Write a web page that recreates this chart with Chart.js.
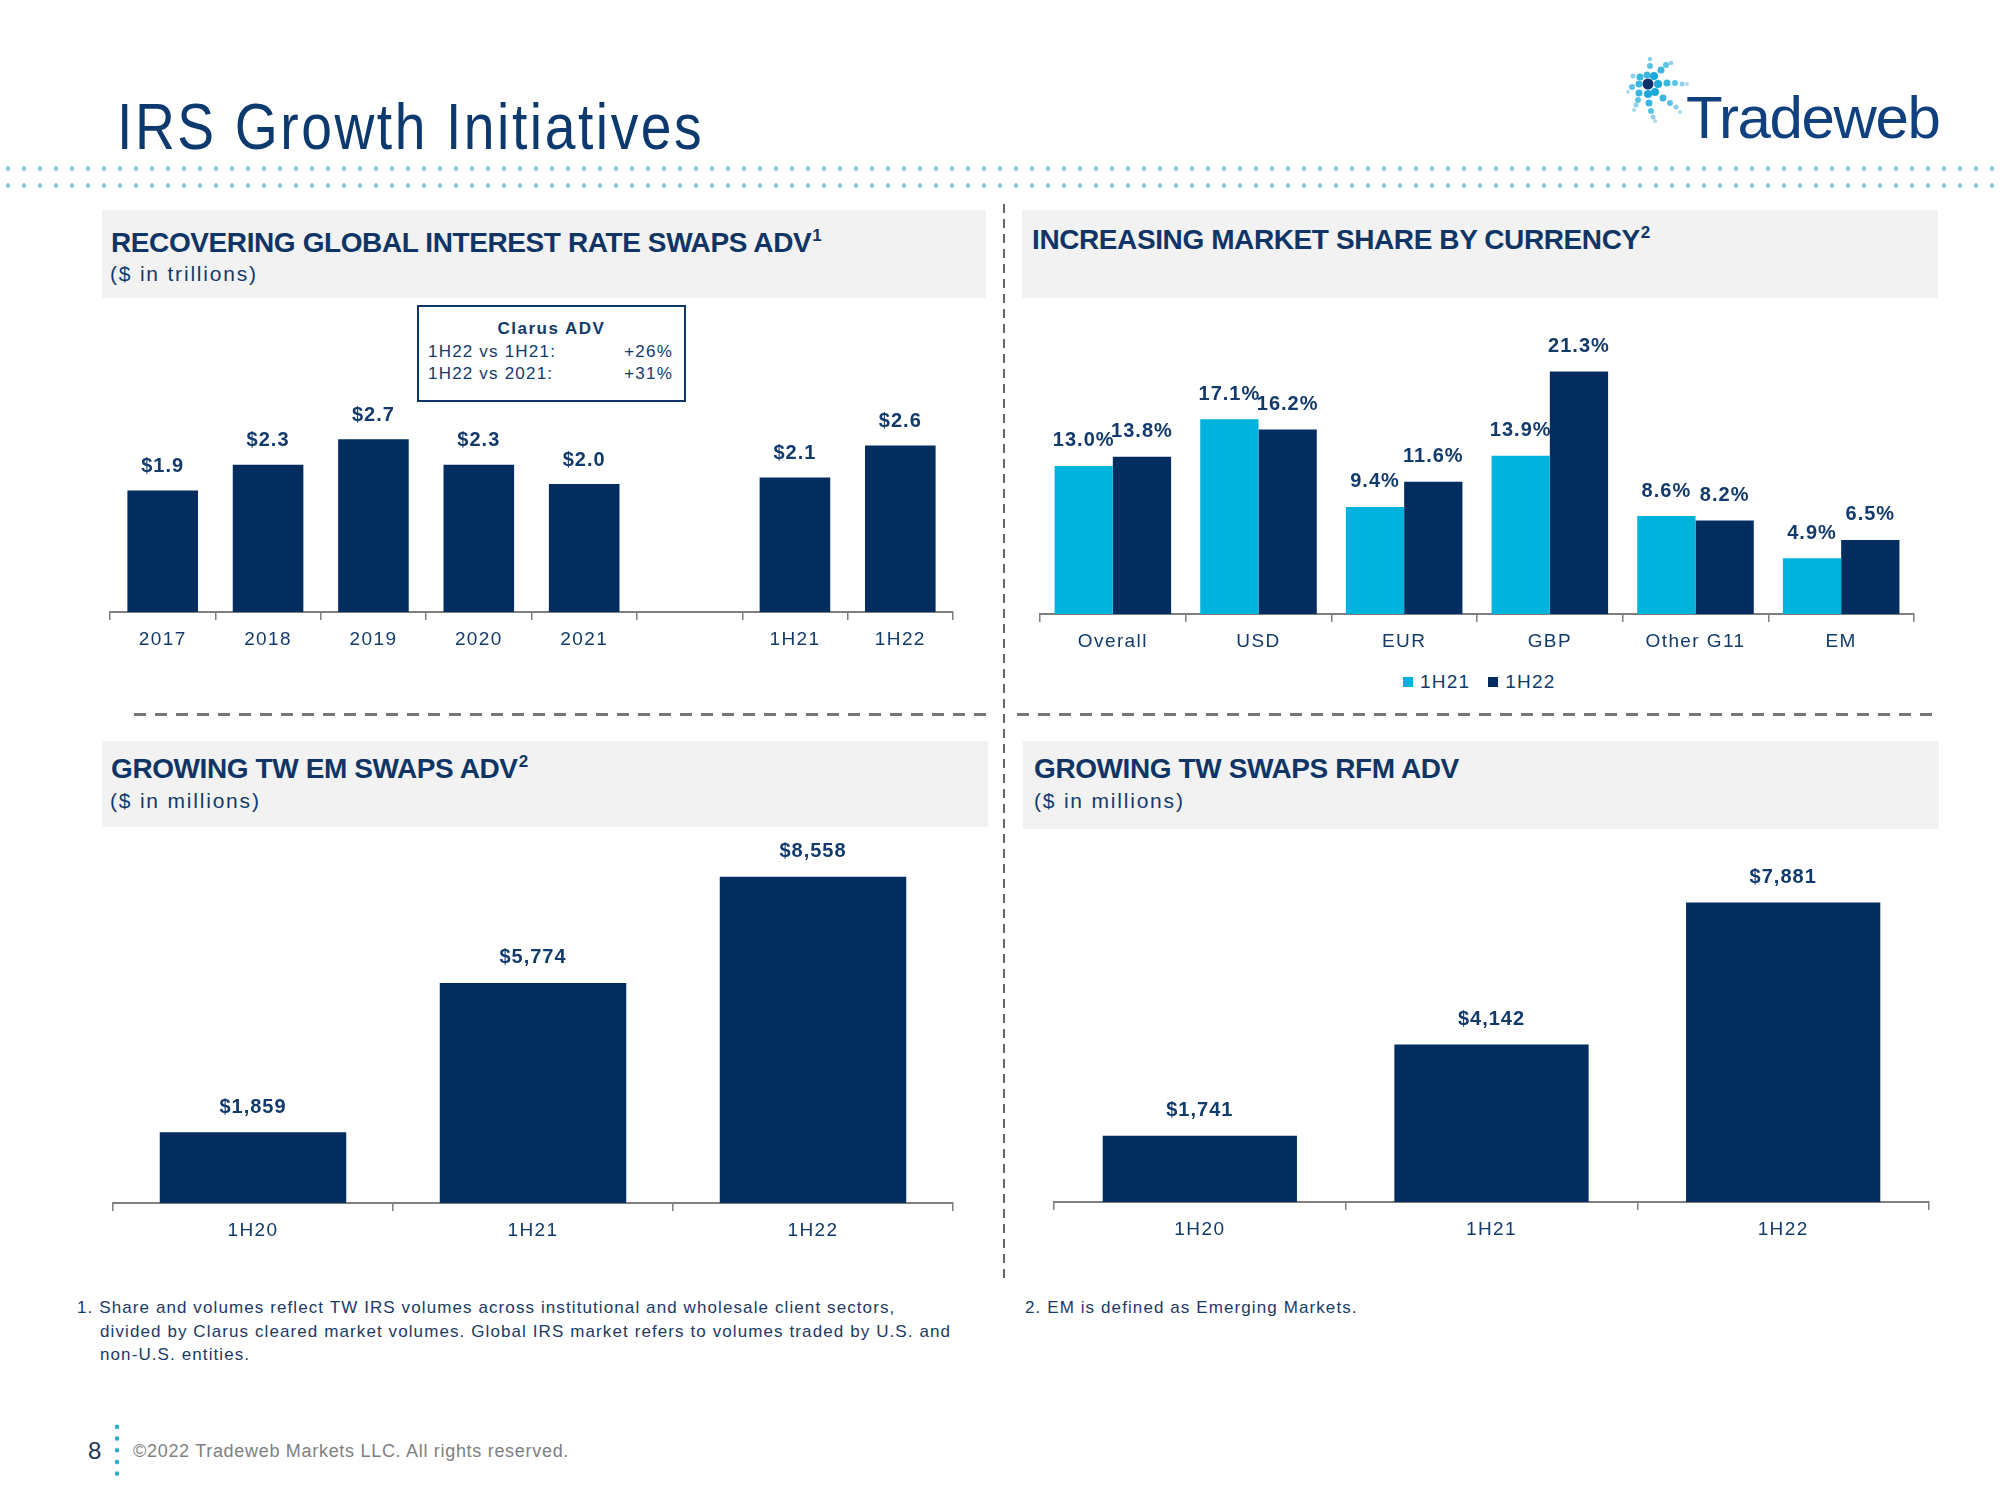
<!DOCTYPE html>
<html>
<head>
<meta charset="utf-8">
<script src="https://cdn.jsdelivr.net/npm/chart.js@4.4.1/dist/chart.umd.min.js"></script>
<style>
body { margin: 0; background: #fff; }
#page { position: relative; width: 2000px; height: 1500px; overflow: hidden; font-family: "Liberation Sans", Arial, sans-serif; color: #123a6b; }
.abs { position: absolute; white-space: nowrap; line-height: 1; }
.hdr { position: absolute; background: #f2f2f2; }
.htitle { position: absolute; font-weight: bold; font-size: 28px; letter-spacing: -0.4px; color: #0f3566; white-space: nowrap; line-height: 1; }
.htitle sup { font-size: 17px; vertical-align: top; position: relative; top: -2px; letter-spacing: 0; margin-left: 1px; }
.hsub { position: absolute; font-size: 21px; letter-spacing: 1.8px; color: #123a6b; white-space: nowrap; line-height: 1; }
.note { position: absolute; white-space: nowrap; font-size: 17px; letter-spacing: 1.1px; line-height: 23.6px; color: #1b3a66; }
canvas { position: absolute; }
</style>
</head>
<body>
<div id="page">
  <!-- page title + logo -->
  <div class="abs" style="left:117px;top:94px;font-size:65px;letter-spacing:3px;color:#0d3a6e;transform:scaleX(0.85);transform-origin:0 0;">IRS Growth Initiatives</div>
  <svg class="abs" style="left:1600px;top:40px;" width="360" height="120" id="logo"></svg>
  <div class="abs" style="left:1686px;top:88px;font-size:60px;letter-spacing:-1.4px;color:#10407e;">Tradeweb</div>
  <div class="abs" style="left:0;top:160px;width:2000px;height:34px;background-image:radial-gradient(circle, #8cc8d8 0 2px, rgba(255,255,255,0) 2.6px);background-size:16px 17px;"></div>

  <!-- separators -->
  <div class="abs" style="left:1003px;top:204px;width:2px;height:1076px;background:repeating-linear-gradient(to bottom,#666 0 9px,rgba(0,0,0,0) 9px 15px);"></div>
  <div class="abs" style="left:134px;top:713px;width:854px;height:3px;background:repeating-linear-gradient(to right,#777 0 12px,rgba(0,0,0,0) 12px 21px);"></div>
  <div class="abs" style="left:1017px;top:713px;width:922px;height:3px;background:repeating-linear-gradient(to right,#777 0 12px,rgba(0,0,0,0) 12px 21px);"></div>

  <!-- panel headers -->
  <div class="hdr" style="left:102px;top:210px;width:884px;height:88px;"></div>
  <div class="htitle" style="left:111px;top:229px;">RECOVERING GLOBAL INTEREST RATE SWAPS ADV<sup>1</sup></div>
  <div class="hsub" style="left:110px;top:263px;">($ in trillions)</div>

  <div class="hdr" style="left:1022px;top:210px;width:916px;height:88px;"></div>
  <div class="htitle" style="left:1032px;top:226px;">INCREASING MARKET SHARE BY CURRENCY<sup>2</sup></div>

  <div class="hdr" style="left:102px;top:741px;width:886px;height:86px;"></div>
  <div class="htitle" style="left:111px;top:755px;">GROWING TW EM SWAPS ADV<sup>2</sup></div>
  <div class="hsub" style="left:110px;top:790px;">($ in millions)</div>

  <div class="hdr" style="left:1023px;top:741px;width:916px;height:88px;"></div>
  <div class="htitle" style="left:1034px;top:755px;">GROWING TW SWAPS RFM ADV</div>
  <div class="hsub" style="left:1034px;top:790px;">($ in millions)</div>

  <!-- Clarus box -->
  <div class="abs" style="left:417px;top:305px;width:269px;height:97px;box-sizing:border-box;border:2px solid #0f3566;"></div>
  <div class="abs" style="left:417px;width:269px;top:320px;text-align:center;font-weight:bold;font-size:17px;letter-spacing:1.5px;">Clarus ADV</div>
  <div class="abs" style="left:428px;top:343px;font-size:17px;letter-spacing:1.2px;">1H22 vs 1H21:</div>
  <div class="abs" style="left:600px;width:73px;text-align:right;top:343px;font-size:17px;letter-spacing:1.2px;">+26%</div>
  <div class="abs" style="left:428px;top:365px;font-size:17px;letter-spacing:1.2px;">1H22 vs 2021:</div>
  <div class="abs" style="left:600px;width:73px;text-align:right;top:365px;font-size:17px;letter-spacing:1.2px;">+31%</div>

  <!-- legend for share chart -->
  <div id="legend" class="abs" style="left:1403px;top:672px;font-size:19px;letter-spacing:1.2px;"></div>

  <canvas id="irsChart"></canvas>
  <canvas id="shareChart"></canvas>
  <canvas id="emChart"></canvas>
  <canvas id="rfmChart"></canvas>

  <!-- footnotes -->
  <div class="note" style="left:77px;top:1296px;">
    1.&nbsp;Share and volumes reflect TW IRS volumes across institutional and wholesale client sectors,<br>
    <span style="padding-left:23px;">divided by Clarus cleared market volumes. Global IRS market refers to volumes traded by U.S. and</span><br>
    <span style="padding-left:23px;">non-U.S. entities.</span>
  </div>
  <div class="note" style="left:1025px;top:1296px;">2.&nbsp;EM is defined as Emerging Markets.</div>

  <!-- footer -->
  <div class="abs" style="left:88px;top:1439px;font-size:24px;color:#1d3557;">8</div>
  <div class="abs" style="left:114px;top:1421px;width:6px;height:59px;background-image:radial-gradient(circle, #2aaecb 0 2px, rgba(255,255,255,0) 2.6px);background-size:6px 11.7px;"></div>
  <div class="abs" style="left:133px;top:1442px;font-size:18px;letter-spacing:0.7px;color:#808080;">©2022 Tradeweb Markets LLC. All rights reserved.</div>
</div>

<script>
const navy = '#022d5e';
const cyan = '#00b3dd';
const textNavy = '#123a6b';
const axisGray = '#7f7f7f';

// recovering global IRS ADV ($ trillions)
const irsPeriods = ['2017', '2018', '2019', '2020', '2021', '', '1H21', '1H22'];
const irsAdv = [1.9, 2.3, 2.7, 2.3, 2.0, null, 2.1, 2.6];

// market share by currency (%)
const ccyCats = ['Overall', 'USD', 'EUR', 'GBP', 'Other G11', 'EM'];
const shareSeries = ['1H21', '1H22'];
const share1H21 = [13.0, 17.1, 9.4, 13.9, 8.6, 4.9];
const share1H22 = [13.8, 16.2, 11.6, 21.3, 8.2, 6.5];

// TW EM swaps / RFM swaps ADV ($ millions)
const halfYears = ['1H20', '1H21', '1H22'];
const emAdv = [1859, 5774, 8558];
const rfmAdv = [1741, 4142, 7881];

const fmtTrn = v => '$' + v.toFixed(1);
const fmtPct = v => v.toFixed(1) + '%';
const fmtMln = v => '$' + v.toLocaleString('en-US');

// letter spacing for tick text
const spacing = {
    id: 'spacing',
    beforeDraw: (chart) => { chart.ctx.letterSpacing = '1.4px'; }
};

// value labels above each bar
const valueLabels = {
    id: 'valueLabels',
    afterDatasetsDraw: (chart) => {
        const ctx = chart.ctx;
        ctx.save();
        ctx.font = 'bold 20px "Liberation Sans", Arial, sans-serif';
        ctx.letterSpacing = '1px';
        ctx.fillStyle = textNavy;
        ctx.textAlign = 'center';
        ctx.textBaseline = 'middle';
        chart.data.datasets.forEach((ds, i) => {
            chart.getDatasetMeta(i).data.forEach((bar, j) => {
                const v = ds.data[j];
                if (v === null || v === undefined) return;
                ctx.fillText(ds.fmt(v), bar.x, bar.y - ds.labelOffset);
            });
        });
        ctx.restore();
    }
};

function barChart(id, box, labels, datasets, yMax, barPct, catPct) {
    const cv = document.getElementById(id);
    cv.width = box.w;
    cv.height = box.h;
    cv.style.left = box.x + 'px';
    cv.style.top = box.y + 'px';
    return new Chart(cv, {
        type: 'bar',
        data: { labels: labels, datasets: datasets },
        plugins: [spacing, valueLabels],
        options: {
            responsive: false,
            animation: false,
            devicePixelRatio: 1,
            layout: { padding: { top: 40, left: 2, right: 2, bottom: 0 } },
            plugins: { legend: { display: false }, tooltip: { enabled: false } },
            datasets: { bar: { barPercentage: barPct, categoryPercentage: catPct } },
            scales: {
                x: {
                    grid: { display: true, drawOnChartArea: false, drawTicks: true, tickLength: 8, color: axisGray, lineWidth: 1.5, offset: true },
                    border: { display: true, color: axisGray, width: 2 },
                    ticks: { color: textNavy, font: { family: 'Liberation Sans', size: 19 }, padding: 8, maxRotation: 0, autoSkip: false },
                    afterFit: (s) => { s.height = 45; }
                },
                y: { display: false, min: 0, max: yMax }
            }
        }
    });
}

barChart('irsChart', { x: 108, y: 380, w: 847, h: 277 }, irsPeriods,
    [{ label: 'ADV', data: irsAdv, backgroundColor: navy, fmt: fmtTrn, labelOffset: 24 }],
    3.0, 0.67, 1.0);

barChart('shareChart', { x: 1038, y: 320, w: 878, h: 339 }, ccyCats,
    [{ label: shareSeries[0], data: share1H21, backgroundColor: cyan, fmt: fmtPct, labelOffset: 25 },
     { label: shareSeries[1], data: share1H22, backgroundColor: navy, fmt: fmtPct, labelOffset: 25 }],
    22.3, 1.0, 0.8);

barChart('emChart', { x: 111, y: 820, w: 844, h: 428 }, halfYears,
    [{ label: 'EM ADV', data: emAdv, backgroundColor: navy, fmt: fmtMln, labelOffset: 25 }],
    9000, 0.666, 1.0);

barChart('rfmChart', { x: 1052, y: 820, w: 879, h: 427 }, halfYears,
    [{ label: 'RFM ADV', data: rfmAdv, backgroundColor: navy, fmt: fmtMln, labelOffset: 25 }],
    9000, 0.666, 1.0);

// legend
const legendColors = [cyan, navy];
document.getElementById('legend').innerHTML = shareSeries.map((s, i) =>
    '<span style="display:inline-block;width:10px;height:10px;background:' + legendColors[i] + ';margin-right:7px;vertical-align:1px;"></span>' +
    '<span style="margin-right:18px;">' + s + '</span>').join('');

// logo dots
const logoDots = [
    [1648, 84, 5.5, '#0b2f6b'],
    [1654, 76, 4, '#1aa9d8'], [1661, 70, 3.5, '#3bb6df'], [1666, 65, 3, '#5cc3e6'], [1671, 63, 2.3, '#8fd0ea'],
    [1658, 84, 4, '#1aa9d8'], [1667, 83, 3.5, '#3bb6df'], [1675, 83, 3, '#5cc3e6'], [1682, 84, 2.5, '#8fd0ea'], [1687, 84, 2, '#a8dbee'],
    [1655, 92, 4, '#1aa9d8'], [1663, 98, 3.5, '#3bb6df'], [1670, 103, 3, '#5cc3e6'], [1676, 107, 2.5, '#8fd0ea'], [1680, 112, 2, '#a8dbee'],
    [1648, 94, 4, '#1aa9d8'], [1649, 103, 3.5, '#3bb6df'], [1651, 111, 3, '#5cc3e6'], [1653, 117, 2.5, '#8fd0ea'], [1655, 121, 2, '#a8dbee'],
    [1639, 93, 3.5, '#3bb6df'], [1638, 100, 3, '#5cc3e6'], [1636, 105, 2.5, '#8fd0ea'], [1634, 110, 2, '#a8dbee'],
    [1639, 84, 3.5, '#3bb6df'], [1632, 87, 3, '#5cc3e6'], [1628, 92, 2, '#a8dbee'],
    [1640, 77, 3.5, '#3bb6df'], [1633, 76, 2.5, '#8fd0ea'],
    [1647, 75, 3.5, '#3bb6df'], [1650, 66, 3, '#5cc3e6'], [1650, 59, 2.3, '#8fd0ea']
];
document.getElementById('logo').innerHTML = logoDots.map(d =>
    '<circle cx="' + (d[0] - 1600) + '" cy="' + (d[1] - 40) + '" r="' + d[2] + '" fill="' + d[3] + '"/>').join('');
</script>
</body>
</html>
